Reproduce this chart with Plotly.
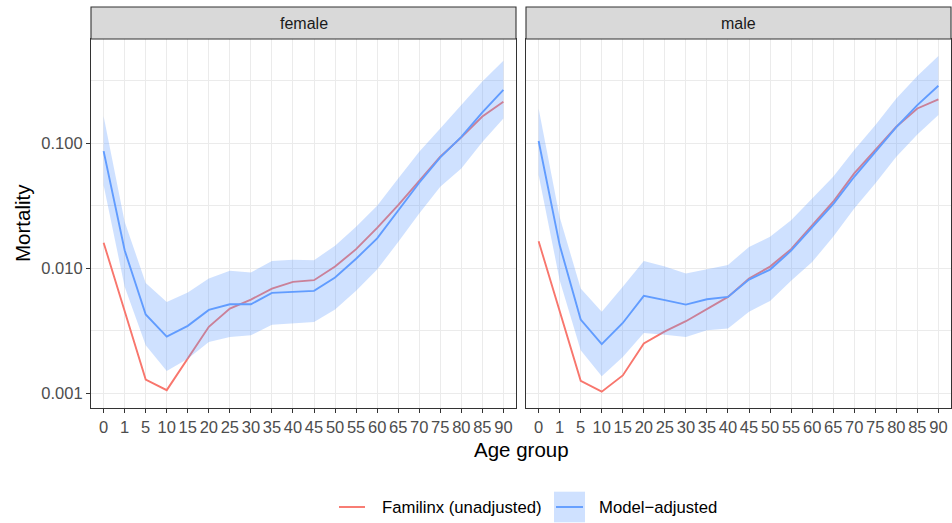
import plotly.graph_objects as go

age_groups = ["0", "1", "5", "10", "15", "20", "25", "30", "35", "40", "45",
              "50", "55", "60", "65", "70", "75", "80", "85", "90"]

female_familinx = [0.0160, 0.00461, 0.00129, 0.00106, 0.00189, 0.0034, 0.00475, 0.00561,
                   0.00687, 0.00778, 0.00802, 0.0103, 0.0142, 0.0210, 0.0319, 0.0497,
                   0.0778, 0.111, 0.163, 0.214]
female_model = [0.0863, 0.0139, 0.00427, 0.00284, 0.00346, 0.00464, 0.00515, 0.00515,
                0.00635, 0.00647, 0.00659, 0.00842, 0.0119, 0.0173, 0.0291, 0.0482,
                0.0768, 0.112, 0.176, 0.266]
female_upper = [0.164, 0.0235, 0.00763, 0.00538, 0.00639, 0.00827, 0.00952, 0.00923,
                0.0114, 0.0117, 0.0116, 0.0151, 0.0214, 0.0315, 0.0522, 0.0852,
                0.131, 0.201, 0.310, 0.455]
female_lower = [0.0461, 0.0071, 0.00242, 0.00151, 0.00189, 0.00257, 0.00282, 0.00291,
                0.00354, 0.00365, 0.00372, 0.00467, 0.00659, 0.00975, 0.0162, 0.0274,
                0.0448, 0.0627, 0.102, 0.157]

male_familinx = [0.0164, 0.00461, 0.00126, 0.00103, 0.00139, 0.00250, 0.00313, 0.00377,
                 0.00475, 0.0059, 0.00827, 0.0103, 0.0142, 0.0221, 0.0340, 0.0572,
                 0.0879, 0.135, 0.189, 0.224]
male_model = [0.104, 0.0153, 0.00389, 0.00247, 0.00365, 0.00601, 0.00555, 0.00512,
              0.00565, 0.00590, 0.00811, 0.00975, 0.0138, 0.0212, 0.0325, 0.0538,
              0.0852, 0.134, 0.201, 0.287]
male_upper = [0.189, 0.0257, 0.00687, 0.00448, 0.0071, 0.0114, 0.0103, 0.00906,
              0.00982, 0.0106, 0.0148, 0.0178, 0.0242, 0.0361, 0.0538, 0.0879,
              0.139, 0.227, 0.344, 0.497]
male_lower = [0.0555, 0.00802, 0.00221, 0.00137, 0.00195, 0.00304, 0.00294, 0.00282,
              0.00319, 0.00329, 0.00448, 0.00548, 0.00792, 0.0112, 0.0178, 0.0300,
              0.0475, 0.0778, 0.117, 0.168]

panels = ["female", "male"]
y_ticks = [0.001, 0.01, 0.1]
y_ticktext = ["0.001", "0.010", "0.100"]
y_minor = [10 ** -2.5, 10 ** -1.5, 10 ** -0.5]

RED = "#F8766D"
BLUE = "#619CFF"
FILL = "rgba(97,156,255,0.3)"
FONT = "Liberation Sans, Arial, sans-serif"

W, H = 952, 523
def px(x):
    return x / W
def py(y):
    return 1 - y / H

fig = go.Figure()

data = [
    (female_familinx, female_model, female_upper, female_lower),
    (male_familinx, male_model, male_upper, male_lower),
]

for i, (fam, mod, up, lo) in enumerate(data):
    xa = "x" if i == 0 else "x2"
    ya = "y" if i == 0 else "y2"
    fig.add_trace(go.Scatter(x=age_groups, y=fam, mode="lines",
                             line=dict(color=RED, width=1.9),
                             xaxis=xa, yaxis=ya, showlegend=False,
                             name="Familinx (unadjusted)"))
    fig.add_trace(go.Scatter(x=age_groups + age_groups[::-1], y=up + lo[::-1],
                             mode="lines", fill="toself", fillcolor=FILL,
                             line=dict(width=0, color=FILL),
                             xaxis=xa, yaxis=ya, showlegend=False, hoverinfo="skip"))
    fig.add_trace(go.Scatter(x=age_groups, y=mod, mode="lines",
                             line=dict(color=BLUE, width=1.9),
                             xaxis=xa, yaxis=ya, showlegend=False,
                             name="Model-adjusted"))

domains = [(91, 516), (526, 951)]
top, bottom = 39, 407.7

axis_common = dict(
    showline=True, mirror=True, linecolor="#333333", linewidth=1.1,
    ticks="outside", ticklen=4, tickwidth=1.07, tickcolor="#333333",
    showgrid=True, gridcolor="#EBEBEB", gridwidth=1.07, zeroline=False,
    tickfont=dict(family=FONT, size=16.5, color="#4D4D4D"),
)

for i, (d0, d1) in enumerate(domains):
    xkey = "xaxis" if i == 0 else "xaxis2"
    ykey = "yaxis" if i == 0 else "yaxis2"
    fig.layout[xkey] = dict(
        axis_common, domain=[px(d0), px(d1)], type="category",
        categoryorder="array", categoryarray=age_groups,
        range=[-0.6, 19.6], tickmode="array", tickvals=age_groups,
        ticktext=age_groups, tickangle=0, anchor="y" if i == 0 else "y2",
    )
    fig.layout[ykey] = dict(
        axis_common, domain=[py(bottom), py(top)], type="log",
        range=[-3.115, -0.168], tickmode="array", tickvals=y_ticks,
        ticktext=y_ticktext, showticklabels=(i == 0),
        anchor="x" if i == 0 else "x2",
        minor=dict(tickmode="array", tickvals=y_minor, showgrid=True,
                   gridcolor="#EBEBEB", gridwidth=0.55, ticks=""),
    )
    if i == 1:
        fig.layout[ykey].ticks = ""
        fig.layout[ykey].matches = "y"

shapes = []
annotations = []
for i, (d0, d1) in enumerate(domains):
    shapes.append(dict(type="rect", xref="paper", yref="paper",
                       x0=px(d0), x1=px(d1), y0=py(top), y1=py(7),
                       fillcolor="#D9D9D9", line=dict(color="#333333", width=1.1),
                       layer="above"))
    annotations.append(dict(text=panels[i], xref="paper", yref="paper",
                            x=px((d0 + d1) / 2), y=py(23), showarrow=False,
                            xanchor="center", yanchor="middle",
                            font=dict(family=FONT, size=16, color="#1A1A1A")))

annotations.append(dict(text="Age group", xref="paper", yref="paper",
                        x=px(521), y=py(449), showarrow=False,
                        xanchor="center", yanchor="middle",
                        font=dict(family=FONT, size=20.5, color="black")))
annotations.append(dict(text="Mortality", xref="paper", yref="paper",
                        x=px(22), y=py(223), showarrow=False, textangle=-90,
                        xanchor="center", yanchor="middle",
                        font=dict(family=FONT, size=20.5, color="black")))

# manual legend
shapes.append(dict(type="line", xref="paper", yref="paper",
                   x0=px(339), x1=px(365), y0=py(507), y1=py(507),
                   line=dict(color=RED, width=1.9)))
shapes.append(dict(type="rect", xref="paper", yref="paper",
                   x0=px(554), x1=px(585), y0=py(522.3), y1=py(491.7),
                   fillcolor=FILL, line=dict(width=0)))
shapes.append(dict(type="line", xref="paper", yref="paper",
                   x0=px(556), x1=px(583), y0=py(507), y1=py(507),
                   line=dict(color=BLUE, width=1.9)))
annotations.append(dict(text="Familinx (unadjusted)", xref="paper", yref="paper",
                        x=px(380), y=py(507), showarrow=False,
                        xanchor="left", yanchor="middle",
                        font=dict(family=FONT, size=16.7, color="black")))
annotations.append(dict(text="Model\u2212adjusted", xref="paper", yref="paper",
                        x=px(597), y=py(507), showarrow=False,
                        xanchor="left", yanchor="middle",
                        font=dict(family=FONT, size=16.7, color="black")))

fig.update_layout(
    width=W, height=H, autosize=False,
    margin=dict(l=0, r=0, t=0, b=0, pad=0),
    plot_bgcolor="white", paper_bgcolor="white",
    shapes=shapes, annotations=annotations, showlegend=False,
)

fig.write_html(
    "out.html",
    config={"displayModeBar": False},
    post_script="document.body.style.margin='0';document.body.style.overflow='hidden';",
)
